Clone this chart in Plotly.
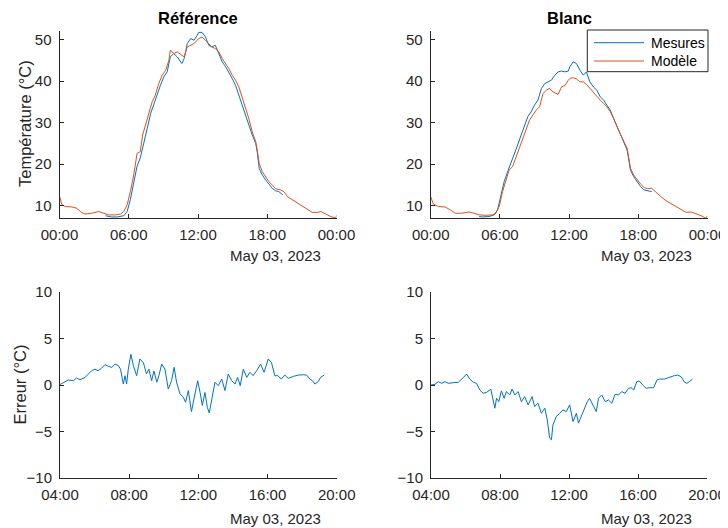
import pandas as pd
import plotly.graph_objects as go

# ---------------- data (hours after 2023-05-03 00:00) ----------------
ref_model_h = [0, 0.2, 0.5, 1.07, 1.5, 1.9, 2.2, 2.8, 3.4, 3.8, 4.26, 4.84, 5.28, 5.57, 5.86,
               6.14, 6.43, 6.72, 7.0, 7.2, 7.45, 7.74, 8.03, 8.3, 8.6, 8.9, 9.2, 9.48, 9.6, 9.9,
               10.2, 10.5, 10.8, 11.07, 11.36, 11.65, 12.06, 12.35, 12.64, 12.93, 13.2, 13.5, 13.8,
               14.1, 14.4, 14.67, 14.96, 15.25, 15.54, 15.83, 16.1, 16.4, 16.7, 17.0, 17.13, 17.3,
               17.57, 17.86, 18.14, 18.43, 18.72, 19.16, 19.45, 19.74, 20.17, 20.6, 21.04, 21.48,
               21.9, 22.35, 22.64, 23.07, 23.5, 23.94, 24.0]
ref_model_v = [12.3, 10.3, 9.8, 9.7, 9.4, 8.4, 8.0, 8.2, 8.6, 8.2, 7.8, 7.8, 8.0, 8.6, 10.2,
               13.4, 17.4, 22.6, 23.0, 27.0, 29.4, 31.8, 35.0, 36.6, 39.4, 41.4, 42.6, 45.0, 47.4, 46.6,
               47.0, 46.4, 45.8, 48.2, 48.6, 49.0, 50.2, 50.6, 49.8, 49.0, 48.2, 47.8, 47.0,
               45.4, 44.2, 43.0, 41.4, 40.2, 38.6, 36.2, 33.8, 31.0, 27.8, 25.4, 23.4, 20.2,
               18.2, 17.0, 15.8, 15.0, 14.1, 13.8, 13.4, 12.2, 11.4, 10.6, 10.0, 9.0,
               8.4, 8.4, 8.6, 8.0, 7.4, 7.0, 7.7]

ref_meas_h = [3.97, 4.5, 5.0, 5.57, 5.86, 6.14, 6.43, 6.72, 7.0, 7.3, 7.6, 7.9, 8.2, 8.46, 8.75,
              9.04, 9.33, 9.6, 9.9, 10.2, 10.6, 10.8, 11.07, 11.36, 11.65, 11.94, 12.06, 12.35,
              12.64, 12.93, 13.2, 13.5, 13.8, 14.1, 14.4, 14.67, 14.96, 15.25, 15.54, 15.83, 16.1,
              16.4, 16.7, 17.0, 17.13, 17.3, 17.57, 17.86, 18.14, 18.43, 18.72, 19.0, 19.36]
ref_meas_v = [7.6, 7.3, 7.3, 7.6, 8.6, 11.5, 15.5, 19.5, 21.5, 25.4, 28.6, 32.2, 34.6, 37.0, 39.0,
              41.0, 42.2, 45.8, 46.6, 45.8, 44.2, 45.4, 49.0, 50.2, 49.8, 51.0, 51.7, 51.7,
              50.6, 48.6, 48.2, 48.6, 46.6, 44.6, 43.4, 42.2, 40.6, 39.0, 36.6, 34.6, 31.8,
              29.4, 27.0, 25.0, 23.0, 19.0, 17.4, 16.2, 15.2, 14.2, 13.6, 13.4, 12.6]

blanc_model_h = [0, 0.23, 0.67, 1.26, 1.7, 2.13, 2.7, 3.3, 3.74, 4.18, 4.77, 5.35, 5.64, 5.94, 6.23,
                 6.52, 6.8, 7.1, 7.4, 7.7, 8.0, 8.27, 8.57, 8.86, 9.15, 9.44, 9.74, 10.03, 10.3, 10.6,
                 11.05, 11.35, 11.64, 11.93, 12.06, 12.35, 12.64, 12.94, 13.23, 13.5, 13.8, 14.1,
                 14.4, 14.7, 15.0, 15.27, 15.57, 15.86, 16.15, 16.44, 16.74, 17.03, 17.18, 17.32,
                 17.6, 17.9, 18.2, 18.5, 18.78, 19.16, 19.5, 19.95, 20.4, 20.83, 21.27, 21.7,
                 22.15, 22.58, 23.0, 23.46, 23.84, 24.0]
blanc_model_v = [12.2, 10.4, 9.8, 9.7, 9.0, 8.2, 8.2, 8.5, 8.2, 7.8, 7.7, 7.8, 8.2, 9.8, 13.4,
                 16.2, 18.6, 19.4, 21.8, 23.8, 26.2, 28.6, 30.6, 31.8, 33.0, 33.8, 37.0, 37.8, 38.2, 37.4,
                 36.8, 38.6, 38.9, 40.2, 40.6, 40.8, 40.5, 39.8, 39.8, 39.2, 38.2, 37.4,
                 36.2, 35.4, 34.6, 33.8, 32.6, 31.0, 29.0, 27.4, 25.4, 23.8, 21.4, 19.0,
                 17.4, 16.2, 15.2, 14.4, 14.1, 14.2, 13.3, 12.2, 11.2, 10.5, 9.8, 9.0,
                 8.4, 8.5, 8.1, 7.6, 7.0, 7.6]

blanc_meas_h = [4.2, 4.47, 5.06, 5.5, 5.8, 6.08, 6.37, 6.67, 6.96, 7.25, 7.54, 7.84, 8.13, 8.42,
                8.71, 9.0, 9.3, 9.6, 9.9, 10.2, 10.47, 10.76, 11.05, 11.35, 11.64, 11.93, 12.06,
                12.35, 12.64, 12.94, 13.23, 13.5, 13.8, 14.1, 14.4, 14.7, 15.0, 15.27, 15.57, 15.86,
                16.15, 16.44, 16.74, 17.03, 17.18, 17.32, 17.6, 17.9, 18.2, 18.5, 18.78, 19.16]
blanc_meas_v = [7.4, 7.3, 7.4, 7.8, 9.0, 12.6, 15.8, 18.2, 20.2, 22.6, 24.6, 27.0, 29.0, 31.4,
                32.6, 34.2, 35.4, 38.2, 39.4, 39.8, 40.2, 41.4, 42.2, 42.4, 42.2, 42.4, 43.4,
                44.6, 44.2, 42.6, 41.4, 42.2, 39.8, 38.6, 37.8, 36.2, 35.4, 34.2, 33.0, 31.0,
                29.0, 27.0, 25.4, 23.4, 21.0, 18.6, 17.0, 15.8, 14.6, 13.8, 13.6, 13.4]

ref_err_h = [4.0, 4.29, 4.48, 4.77, 4.96, 5.16, 5.45, 5.64, 5.83, 6.02, 6.2, 6.4, 6.6, 6.8, 7.0,
             7.18, 7.37, 7.5, 7.66, 7.76, 7.85, 7.95, 8.1, 8.24, 8.43, 8.62, 8.82, 9.0, 9.14, 9.3,
             9.43, 9.6, 9.72, 9.88, 10.07, 10.26, 10.45, 10.6, 10.74, 10.94, 11.13, 11.26, 11.42,
             11.6, 11.8, 11.96, 12.1, 12.23, 12.38, 12.52, 12.63, 12.77, 12.96, 13.15, 13.35,
             13.54, 13.73, 13.93, 14.12, 14.27, 14.42, 14.6, 14.8, 14.98, 15.17, 15.37, 15.6,
             15.8, 16.04, 16.23, 16.42, 16.6, 16.8, 17.0, 17.2, 17.5, 17.78, 18.07, 18.26,
             18.45, 18.6, 18.74, 18.93, 19.07, 19.28]
ref_err_v = [0.05, 0.36, 0.54, 0.46, 0.75, 0.57, 0.82, 1.18, 1.54, 1.7, 1.54, 1.8, 2.2, 2.0, 1.9,
             2.25, 2.1, 1.7, 0.1, 1.0, 0.1, 1.7, 3.3, 2.1, 1.0, 2.8, 2.4, 1.2, 1.7, 0.46,
             1.5, 0.3, 1.0, 2.25, 1.7, -0.43, 0.46, 1.9, 0.3, -0.96, -1.3, -1.86, -0.6,
             -2.86, -0.8, 0.46, -0.8, -2.2, -0.8, -2.4, -3.0, -1.7, 0.3, -0.07, 0.64,
             -0.6, 1.18, 0.46, 0.1, 0.82, -0.07, 1.7, 0.82, 1.36, 1.0, 1.54, 2.25,
             1.36, 2.8, 2.4, 1.0, 1.0, 0.64, 1.07, 0.71, 0.93, 1.07, 1.1, 1.07,
             0.64, 0.46, 0.1, 0.36, 0.82, 1.07]

blanc_err_h = [4.0, 4.23, 4.42, 4.62, 4.81, 5.0, 5.29, 5.58, 5.87, 6.06, 6.25, 6.45, 6.64, 6.83,
               7.02, 7.22, 7.47, 7.6, 7.7, 7.8, 7.93, 8.08, 8.24, 8.37, 8.57, 8.7, 8.86, 9.05,
               9.24, 9.43, 9.63, 9.86, 10.01, 10.2, 10.4, 10.6, 10.74, 10.88, 10.98, 11.07,
               11.26, 11.46, 11.65, 11.84, 12.04, 12.23, 12.43, 12.55, 12.71, 12.9, 13.06,
               13.19, 13.38, 13.58, 13.71, 13.9, 14.1, 14.29, 14.48, 14.67, 14.87, 15.06,
               15.25, 15.45, 15.6, 15.75, 15.93, 16.08, 16.27, 16.47, 16.66, 16.91, 17.1,
               17.24, 17.53, 17.82, 18.1, 18.3, 18.5, 18.7, 18.84, 18.97, 19.16]
blanc_err_v = [0.0, 0.07, 0.36, 0.18, 0.36, 0.18, 0.25, 0.29, 0.79, 1.18, 0.64, 0.29, 0.18, -0.54,
               -0.89, -0.79, -0.46, -1.43, -2.5, -1.43, -1.79, -0.64, -1.43, -0.71, -1.07, -0.43,
               -1.07, -0.71, -1.79, -1.25, -2.14, -1.25, -2.32, -1.96, -3.04, -2.5, -3.75, -5.71,
               -5.89, -4.29, -3.39, -3.04, -2.68, -2.86, -2.14, -3.93, -3.04, -4.1, -3.39, -2.68,
               -1.79, -1.43, -2.14, -2.86, -1.43, -1.07, -1.79, -1.61, -1.96, -1.0, -1.07, -0.71,
               -0.89, -0.36, -0.29, -0.54, 0.36, 0.43, 0.0, -0.36, -0.29, -0.29, 0.54, 0.64,
               0.64, 0.86, 1.0, 1.07, 0.89, 0.29, 0.18, 0.36, 0.64]

titles = ["Référence", "Blanc"]
series_names = ["Mesures", "Modèle"]
date_label = "May 03, 2023"
temp_ticks = [10, 20, 30, 40, 50]
err_ticks = [-10, -5, 0, 5, 10]

# ---------------- helpers ----------------
DAY = pd.Timestamp("2023-05-03")


def to_time(hours):
    return [DAY + pd.Timedelta(hours=h) for h in hours]


BLUE = "#0072BD"
ORANGE = "#D95319"
AX = "#262626"
FONT = "Liberation Sans, Arial, sans-serif"
OFF = 8            # page body margin of the browser
W, H = 728 - OFF, 528 - OFF


def px_x(p):
    return (p - OFF) / W


def px_y(p):
    return 1 - (p - OFF) / H


fig = go.Figure()

fig.add_trace(go.Scatter(x=to_time(ref_meas_h), y=ref_meas_v, mode="lines", name=series_names[0],
                         line=dict(color=BLUE, width=1), xaxis="x", yaxis="y"))
fig.add_trace(go.Scatter(x=to_time(ref_model_h), y=ref_model_v, mode="lines", name=series_names[1],
                         line=dict(color=ORANGE, width=1), xaxis="x", yaxis="y"))
fig.add_trace(go.Scatter(x=to_time(blanc_meas_h), y=blanc_meas_v, mode="lines", name=series_names[0],
                         line=dict(color=BLUE, width=1), xaxis="x2", yaxis="y2"))
fig.add_trace(go.Scatter(x=to_time(blanc_model_h), y=blanc_model_v, mode="lines", name=series_names[1],
                         line=dict(color=ORANGE, width=1), xaxis="x2", yaxis="y2"))
fig.add_trace(go.Scatter(x=to_time(ref_err_h), y=ref_err_v, mode="lines",
                         line=dict(color=BLUE, width=1), xaxis="x3", yaxis="y3"))
fig.add_trace(go.Scatter(x=to_time(blanc_err_h), y=blanc_err_v, mode="lines",
                         line=dict(color=BLUE, width=1), xaxis="x4", yaxis="y4"))

common_x = dict(type="date", tickformat="%H:%M", showline=True, linecolor=AX, linewidth=1,
                ticks="inside", ticklen=4, tickcolor=AX, showgrid=False, zeroline=False,
                automargin=False, ticklabelstandoff=3,
                tickfont=dict(family=FONT, size=15, color=AX))
common_y = dict(showline=True, linecolor=AX, linewidth=1, ticks="inside", ticklen=4,
                tickcolor=AX, showgrid=False, zeroline=False,
                automargin=False, ticklabelstandoff=4,
                tickfont=dict(family=FONT, size=15, color=AX))

top_dom = [px_y(218), px_y(30.7)]
bot_dom = [px_y(478), px_y(292)]
left_top = [px_x(59.5), px_x(336.5)]
right_top = [px_x(430.7), px_x(707.5)]
left_bot = [px_x(60), px_x(336.7)]
right_bot = [px_x(431), px_x(707)]

top_range = ["2023-05-03 00:00", "2023-05-04 00:00"]
bot_range = ["2023-05-03 04:00", "2023-05-03 20:00"]
top_tickvals = to_time([0, 6, 12, 18, 24])
bot_tickvals = to_time([4, 8, 12, 16, 20])

fig.update_layout(
    width=W, height=H,
    margin=dict(l=0, r=0, t=0, b=0, autoexpand=False),
    paper_bgcolor="white", plot_bgcolor="white",
    font=dict(family=FONT, color=AX),
    xaxis=dict(domain=left_top, anchor="y", range=top_range, tickvals=top_tickvals, **common_x),
    yaxis=dict(domain=top_dom, anchor="x", range=[7.05, 52.1], tickvals=temp_ticks, **common_y),
    xaxis2=dict(domain=right_top, anchor="y2", range=top_range, tickvals=top_tickvals, **common_x),
    yaxis2=dict(domain=top_dom, anchor="x2", range=[7.05, 52.1], tickvals=temp_ticks, **common_y),
    xaxis3=dict(domain=left_bot, anchor="y3", range=bot_range, tickvals=bot_tickvals, **common_x),
    yaxis3=dict(domain=bot_dom, anchor="x3", range=[-10, 10], tickvals=err_ticks, **common_y),
    xaxis4=dict(domain=right_bot, anchor="y4", range=bot_range, tickvals=bot_tickvals, **common_x),
    yaxis4=dict(domain=bot_dom, anchor="x4", range=[-10, 10], tickvals=err_ticks, **common_y),
    showlegend=False,
)

# legend box of the "Blanc" panel (MATLAB style: 50 px line samples)
legend_box = dict(x0=587.3, x1=708, y0=30, y1=71.7)
legend_rows = [(series_names[0], BLUE, 42.7), (series_names[1], ORANGE, 61.0)]
shapes = [dict(type="rect", xref="paper", yref="paper",
               x0=px_x(legend_box["x0"]), x1=px_x(legend_box["x1"]),
               y0=px_y(legend_box["y1"]), y1=px_y(legend_box["y0"]),
               fillcolor="white", line=dict(color=AX, width=1), layer="above")]
annotations = []
for name, col, yy in legend_rows:
    shapes.append(dict(type="line", xref="paper", yref="paper",
                       x0=px_x(594), x1=px_x(644), y0=px_y(yy), y1=px_y(yy),
                       line=dict(color=col, width=1), layer="above"))
    annotations.append(dict(text=name, x=px_x(649), y=px_y(yy), xref="paper", yref="paper",
                            showarrow=False, xanchor="left", yanchor="middle",
                            font=dict(family=FONT, size=14, color="black")))

annotations += [
    dict(text="<b>%s</b>" % titles[0], x=px_x(198), y=px_y(18), xref="paper", yref="paper",
         showarrow=False, xanchor="center", yanchor="middle",
         font=dict(family=FONT, size=16.5, color="black")),
    dict(text="<b>%s</b>" % titles[1], x=px_x(569), y=px_y(18), xref="paper", yref="paper",
         showarrow=False, xanchor="center", yanchor="middle",
         font=dict(family=FONT, size=16.5, color="black")),
    dict(text="Température (°C)", x=px_x(25), y=px_y(124), xref="paper", yref="paper",
         showarrow=False, textangle=-90, xanchor="center", yanchor="middle",
         font=dict(family=FONT, size=16.5, color=AX)),
    dict(text="Erreur (°C)", x=px_x(19.5), y=px_y(385), xref="paper", yref="paper",
         showarrow=False, textangle=-90, xanchor="center", yanchor="middle",
         font=dict(family=FONT, size=16.5, color=AX)),
]
for xr, yr in [(323, 255), (694, 255), (323, 518), (694, 518)]:
    annotations.append(dict(text=date_label, x=px_x(xr), y=px_y(yr), xref="paper", yref="paper",
                            showarrow=False, xanchor="right", yanchor="middle",
                            font=dict(family=FONT, size=15, color=AX)))
fig.update_layout(annotations=annotations, shapes=shapes)

fig.write_html("out.html")
